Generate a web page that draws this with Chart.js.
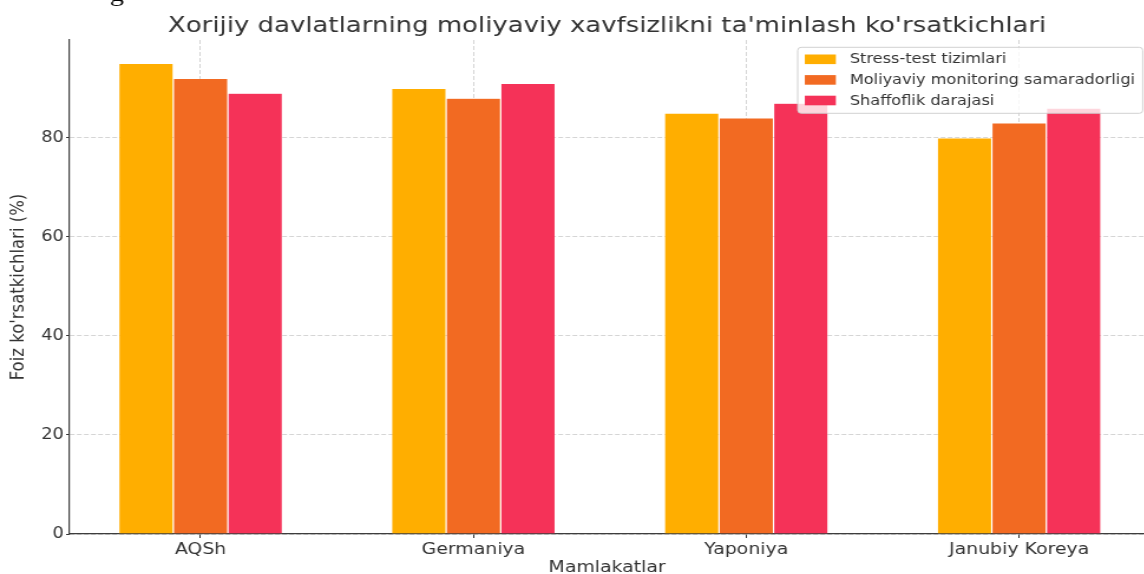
<!DOCTYPE html>
<html>
<head>
<meta charset="utf-8">
<title>Moliyaviy xavfsizlik ko'rsatkichlari</title>
<script src="https://cdn.jsdelivr.net/npm/chart.js@4.4.1/dist/chart.umd.min.js"></script>
<style>
  html, body { margin: 0; padding: 0; background: #fff; overflow: hidden; }
  /* the reference picture is stretched sideways, so the canvas is too */
  #wrap { width: 970px; height: 574px; transform: scaleX(1.18); transform-origin: 0 0; }
</style>
</head>
<body>
<div id="wrap"><canvas id="chart" width="970" height="574"></canvas></div>
<script>
// ===============================
// DATA
// ===============================
const chartTitle = "Xorijiy davlatlarning moliyaviy xavfsizlikni ta'minlash ko'rsatkichlari";
const categories = ['AQSh', 'Germaniya', 'Yaponiya', 'Janubiy Koreya'];
const seriesNames = ['Stress-test tizimlari', 'Moliyaviy monitoring samaradorligi', 'Shaffoflik darajasi'];
const stressTest = [95, 90, 85, 80];
const monitoring = [92, 88, 84, 83];
const transparency = [89, 91, 87, 86];
const yTicks = [0, 20, 40, 60, 80];
const colors = ['#FFAE00', '#F26A22', '#F53258'];

const seriesValues = [stressTest, monitoring, transparency];

// ===============================
// OVERLAY: title, legend, cut-off header letter
// ===============================
const overlayPlugin = {
  id: 'overlay',
  afterDraw(chart) {
    const { ctx, chartArea } = chart;
    ctx.save();

    // fragment of the text line above the chart (cut by the crop)
    ctx.fillStyle = '#000';
    ctx.font = '24px "Liberation Serif"';
    ctx.textAlign = 'left';
    ctx.textBaseline = 'alphabetic';
    ctx.fillText('g', 93, 1);

    // title
    ctx.fillStyle = '#333';
    ctx.font = '22px "DejaVu Sans"';
    ctx.textAlign = 'center';
    ctx.fillText(chartTitle, (chartArea.left + chartArea.right) / 2, 31.5);

    // legend
    ctx.font = '13.7px "DejaVu Sans"';
    const textW = Math.max(...seriesNames.map(n => ctx.measureText(n).width));
    const padL = 6, handleW = 26.3, gap = 11.8, padR = 6.5;
    const boxR = chartArea.right - 1.6;
    const boxL = boxR - (padL + handleW + gap + textW + padR);
    const boxT = chartArea.top + 7.3;
    const boxH = 66;

    ctx.beginPath();
    ctx.roundRect(boxL, boxT, boxR - boxL, boxH, 3);
    ctx.fillStyle = 'rgba(255,255,255,0.8)';
    ctx.fill();
    ctx.lineWidth = 1;
    ctx.strokeStyle = 'rgba(204,204,204,0.9)';
    ctx.stroke();

    ctx.textAlign = 'left';
    ctx.textBaseline = 'middle';
    chart.data.datasets.forEach((ds, i) => {
      const cy = boxT + 12 + i * 20.6;
      ctx.fillStyle = ds.backgroundColor;
      ctx.fillRect(boxL + padL, cy - 4.8, handleW, 9.6);
      ctx.fillStyle = '#333';
      ctx.fillText(ds.label, boxL + padL + handleW + gap, cy + 0.5);
    });

    ctx.restore();
  }
};

// ===============================
// CHART
// ===============================
const gridStyle = {
  color: 'rgba(170,170,170,0.55)',
  lineWidth: 0.9,
  tickColor: '#333',
  tickWidth: 1,
  tickBorderDash: []
};

new Chart(document.getElementById('chart').getContext('2d'), {
  type: 'bar',
  data: {
    datasets: seriesNames.map((name, i) => ({
      label: name,
      data: categories.map((c, j) => ({ x: j, y: seriesValues[i][j] })),
      backgroundColor: colors[i],
      borderColor: 'rgba(255,255,255,0.3)',
      borderWidth: 0.6,
      categoryPercentage: 0.6,
      barPercentage: 1.0
    }))
  },
  options: {
    responsive: false,
    animation: false,
    layout: { padding: { top: 40, right: 0, bottom: 0, left: 0 } },
    plugins: {
      legend: { display: false },
      title: { display: false },
      tooltip: { enabled: false }
    },
    scales: {
      x: {
        type: 'linear',
        min: -0.48,
        max: 3.46,
        offset: false,
        z: 1,
        afterFit: s => { s.height = 40; },
        afterBuildTicks: s => { s.ticks = categories.map((c, i) => ({ value: i })); },
        ticks: {
          callback: v => categories[v],
          color: '#333',
          font: { family: 'DejaVu Sans', size: 16 },
          padding: 2,
          maxRotation: 0,
          autoSkip: false
        },
        grid: { ...gridStyle, offset: false, tickLength: 4 },
        border: { color: '#3d3d3d', width: 1.3, dash: [4, 2] },
        title: {
          display: true,
          text: 'Mamlakatlar',
          color: '#333',
          font: { family: 'DejaVu Sans', size: 16, lineHeight: 1 },
          padding: { top: 0, bottom: -1.5 }
        }
      },
      y: {
        min: 0,
        max: 99.75,
        z: 1,
        afterFit: s => { s.width = 59; },
        afterBuildTicks: s => { s.ticks = yTicks.map(v => ({ value: v })); },
        ticks: {
          color: '#333',
          font: { family: 'DejaVu Sans', size: 15 },
          padding: 2
        },
        grid: { ...gridStyle, tickLength: 3 },
        border: { color: '#3d3d3d', width: 1.2, dash: [4, 2] },
        title: {
          display: true,
          text: "Foiz ko'rsatkichlari (%)",
          color: '#333',
          font: { family: 'DejaVu Sans', size: 16.5 },
          padding: { top: 6, bottom: 0 }
        }
      }
    }
  },
  plugins: [overlayPlugin]
});
</script>
</body>
</html>
